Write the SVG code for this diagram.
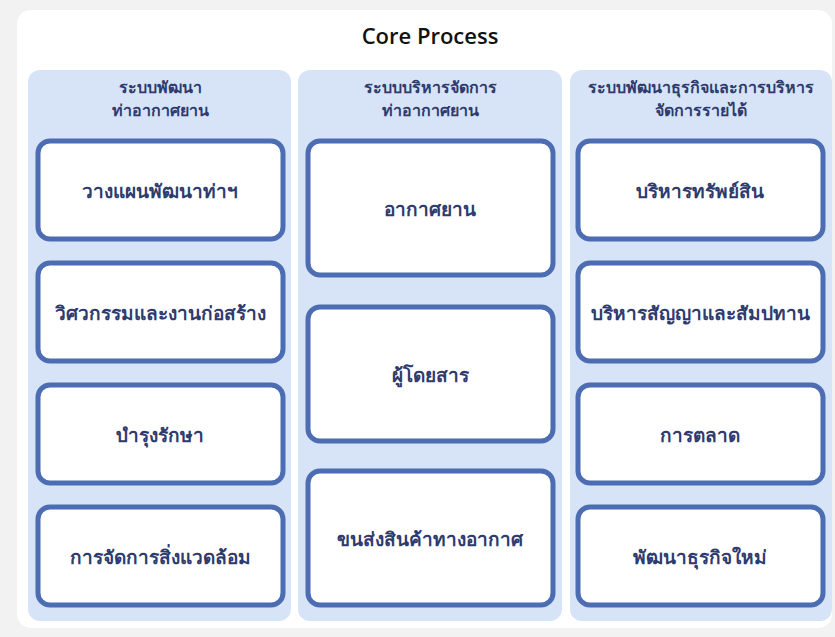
<svg xmlns="http://www.w3.org/2000/svg" width="835" height="637" viewBox="0 0 835 637">
  <style>
    .panel { fill: #ffffff; }
    .col { fill: #d7e4f8; }
    .box { fill: #ffffff; stroke: #4d6db3; stroke-width: 5; }
    .title { font-family: "Open Sans", "Noto Sans", sans-serif; font-size: 22px; font-weight: 600; fill: #111111; text-anchor: middle; }
    .head { font-family: "Noto Sans", "DejaVu Sans", sans-serif; font-size: 16px; font-weight: 600; fill: #2e3b6e; text-anchor: middle; }
    .label { font-family: "Noto Sans", "DejaVu Sans", sans-serif; font-size: 19px; font-weight: 700; fill: #2e3b6e; text-anchor: middle; dominant-baseline: central; }
  </style>

  <!-- page background and main card -->
  <rect x="0" y="0" width="835" height="637" fill="#f2f2f2"/>
  <rect class="panel" x="17" y="10" width="815" height="618" rx="14"/>
  <text class="title" x="430" y="44">Core Process</text>

  <!-- column 1 -->
  <g id="col-airport-development">
    <rect class="col" x="28" y="70" width="263" height="551" rx="12"/>
    <text class="head" x="160" y="93">ระบบพัฒนา</text>
    <text class="head" x="160" y="116">ท่าอากาศยาน</text>
  </g>
  <g id="node-planning">
    <rect class="box" x="38" y="141" width="245" height="98" rx="12"/>
    <text class="label" x="160" y="191">วางแผนพัฒนาท่าฯ</text>
  </g>
  <g id="node-engineering">
    <rect class="box" x="38" y="263" width="245" height="98" rx="12"/>
    <text class="label" x="160" y="313">วิศวกรรมและงานก่อสร้าง</text>
  </g>
  <g id="node-maintenance">
    <rect class="box" x="38" y="385" width="245" height="98" rx="12"/>
    <text class="label" x="160" y="435">บำรุงรักษา</text>
  </g>
  <g id="node-environment">
    <rect class="box" x="38" y="507" width="245" height="98" rx="12"/>
    <text class="label" x="160" y="557">การจัดการสิ่งแวดล้อม</text>
  </g>

  <!-- column 2 -->
  <g id="col-airport-management">
    <rect class="col" x="298" y="70" width="264" height="551" rx="12"/>
    <text class="head" x="430" y="93">ระบบบริหารจัดการ</text>
    <text class="head" x="430" y="116">ท่าอากาศยาน</text>
  </g>
  <g id="node-aircraft">
    <rect class="box" x="308" y="141" width="245" height="134" rx="12"/>
    <text class="label" x="430" y="209">อากาศยาน</text>
  </g>
  <g id="node-passengers">
    <rect class="box" x="308" y="307" width="245" height="134" rx="12"/>
    <text class="label" x="430" y="375">ผู้โดยสาร</text>
  </g>
  <g id="node-cargo">
    <rect class="box" x="308" y="471" width="245" height="134" rx="12"/>
    <text class="label" x="430" y="539">ขนส่งสินค้าทางอากาศ</text>
  </g>

  <!-- column 3 -->
  <g id="col-business-revenue">
    <rect class="col" x="570" y="70" width="262" height="551" rx="12"/>
    <text class="head" x="701" y="93">ระบบพัฒนาธุรกิจและการบริหาร</text>
    <text class="head" x="701" y="116">จัดการรายได้</text>
  </g>
  <g id="node-assets">
    <rect class="box" x="578" y="141" width="245" height="98" rx="12"/>
    <text class="label" x="700" y="191">บริหารทรัพย์สิน</text>
  </g>
  <g id="node-contracts">
    <rect class="box" x="578" y="263" width="245" height="98" rx="12"/>
    <text class="label" x="700" y="313">บริหารสัญญาและสัมปทาน</text>
  </g>
  <g id="node-marketing">
    <rect class="box" x="578" y="385" width="245" height="98" rx="12"/>
    <text class="label" x="700" y="435">การตลาด</text>
  </g>
  <g id="node-new-business">
    <rect class="box" x="578" y="507" width="245" height="98" rx="12"/>
    <text class="label" x="700" y="557">พัฒนาธุรกิจใหม่</text>
  </g>

  <!-- no connectors between nodes -->
  <g id="connectors"/>
</svg>
